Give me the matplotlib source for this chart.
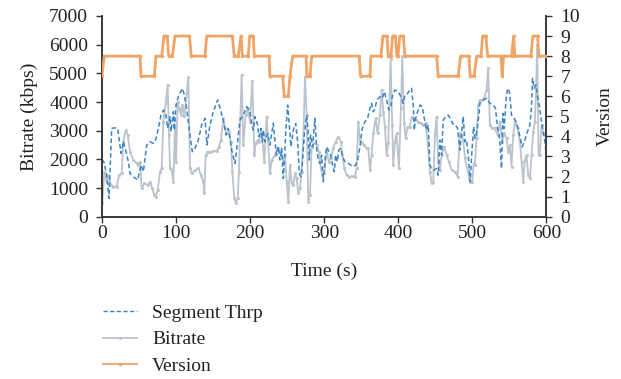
import matplotlib
matplotlib.use("Agg")
import matplotlib.pyplot as plt
from matplotlib.lines import Line2D

# Segment throughput (kbps)
thrp_t = [0, 2.7, 6.3, 9.4, 10.8, 13.0, 17.5, 21.1, 25.6, 28.8, 31.9, 35.5, 37.8, 42.3, 48.1,
          52.6, 55.8, 58.0, 60.3, 64.8, 69.3, 72.4, 76.0, 79.6, 82.8, 85.9, 88.6, 91.8, 93.1,
          96.3, 97.6, 99.9, 103.0, 108.4, 110.6, 114.2, 118.7, 121.9, 125.5, 130.0, 134.5,
          139.0, 141.7, 145.7, 150.2, 156.1, 159.2, 163.7, 167.3, 170.5, 175.0, 179.5, 183.0,
          186.2, 190.7, 195.2, 199.7, 202.0, 204.2, 206.5, 210.1, 211.9, 214.6, 216.4, 217.7,
          220.0, 223.6, 226.7, 229.0, 231.2, 233.5, 235.7, 238.0, 240.2, 242.5, 244.7, 246.1,
          247.9, 250.6, 252.8, 255.1, 258.2, 261.4, 264.1, 266.3, 268.5, 270.3, 273.0, 276.2,
          278.4, 279.8, 281.6, 284.3, 287.4, 289.7, 292.0, 294.2, 296.4, 298.7, 300.9, 303.2,
          306.3, 308.6, 310.8, 313.5, 315.3, 317.6, 319.8, 322.5, 324.8, 327.9, 332.4, 336.0,
          339.2, 342.3, 345.0, 348.2, 351.3, 354.9, 358.5, 361.7, 363.9, 366.2, 368.4, 371.1,
          375.2, 378.3, 381.0, 384.1, 387.3, 390.0, 392.2, 395.4, 399.9, 403.5, 406.6, 408.9,
          412.5, 415.6, 417.9, 420.1, 421.5, 423.3, 426.0, 429.1, 432.3, 435.0, 438.1, 440.4,
          442.6, 445.8, 448.5, 451.6, 453.9, 456.1, 458.4, 460.6, 463.8, 467.4, 471.0, 474.1,
          477.3, 480.0, 483.1, 485.4, 487.6, 489.9, 492.1, 494.4, 497.1, 498.9, 501.6, 503.4,
          505.6, 508.8, 510.1, 514.6, 519.1, 523.6, 528.1, 531.2, 533.9, 535.7, 537.5, 539.3,
          541.1, 542.9, 545.2, 547.4, 550.1, 552.8, 556.4, 559.6, 562.7, 565.0, 567.2, 570.8,
          574.4, 577.6, 579.8, 581.2, 583.4, 585.7, 587.9, 590.2, 593.3, 596.0, 597.8, 600.0]
thrp_kbps = [2000, 1900, 1450, 640, 1570, 3080, 3100, 3080, 2210, 2620, 2330, 1920, 1510, 1395, 1280,
             1800, 1570, 2035, 2500, 2615, 2560, 2675, 3080, 3545, 3720, 3600, 3080, 3490, 2965,
             3660, 3020, 3895, 4185, 4475, 4300, 3780, 2850, 2270, 2385, 2675, 3200,
             3430, 2500, 3200, 3660, 4070, 3780, 3370, 2850, 3080, 2325, 1860, 2615,
             3370, 3545, 3840, 3660, 3255, 3020, 3490, 3200, 2790, 3080, 2615, 3020,
             2615, 2905, 2500, 2905, 3255, 2615, 2150, 2440, 1975, 2385, 1335, 1920,
             2905, 3895, 3200, 2440, 3020, 3255, 2615, 1510, 1395, 1800, 2850, 3545,
             2965, 1975, 2850, 2440, 3430, 2385, 1975, 1860, 2150, 1220, 1920, 2440,
             2270, 2150, 1860, 1570, 2150, 1920, 2325, 2385, 2090, 1920, 1860, 1800,
             1745, 1800, 1975, 2440, 3080, 3315, 3430, 3780, 3955, 3660, 3780, 4070,
             4185, 4130, 4360, 4070, 3720, 3840, 4245, 4420, 4360, 4185, 3955, 4245,
             4300, 4420, 4475, 3895, 3020, 3430, 3660, 3895, 3840, 3430, 3020, 3200,
             1800, 1625, 1625, 1685, 1450, 2675, 2150, 3370, 3490, 3545, 3370, 3220,
             3200, 3080, 2325, 2905, 3490, 2615, 2675, 2150, 1220, 2090, 3140, 2730,
             2905, 3545, 3955, 4070, 4130, 3955, 3895, 3780, 3080, 2965, 2440, 1685,
             3605, 3080, 4010, 4475, 4360, 3545, 3430, 3255, 2965, 2675, 2440, 2675,
             2965, 3200, 3840, 4825, 4475, 4595, 4185, 3895, 3315, 2905, 2615, 2090]

# Selected bitrate (kbps)
rate_t = [0.4, 3.1, 6.3, 8.5, 12.1, 15.3, 19.8, 22.9, 26.5, 28.8, 31.9, 34.6, 37.8, 42.3, 46.8,
          49.0, 51.3, 53.5, 57.1, 61.6, 64.8, 67.9, 70.6, 72.4, 75.1, 78.3, 80.5, 82.8, 85.9,
          88.6, 90.4, 91.8, 94.0, 96.3, 98.5, 99.9, 102.1, 103.9, 106.6, 108.4, 111.1, 114.2,
          116.5, 118.7, 121.0, 125.5, 130.0, 133.6, 136.8, 138.1, 139.9, 142.6, 145.7, 150.2,
          154.7, 157.9, 160.6, 163.7, 166.0, 168.2, 171.4, 174.1, 175.9, 178.6, 180.4, 183.1,
          184.9, 186.7, 188.5, 190.7, 193.9, 196.6, 199.7, 202.9, 205.6, 207.4, 210.1, 211.9,
          214.6, 216.4, 219.1, 222.2, 226.7, 229.0, 233.5, 235.7, 238.0, 241.6, 244.7, 247.0,
          249.2, 251.5, 253.7, 256.0, 258.2, 260.5, 262.7, 265.0, 267.2, 269.4, 271.7, 274.0,
          276.2, 278.4, 280.7, 283.0, 286.5, 289.7, 292.8, 295.5, 297.3, 300.0, 303.2, 306.3,
          309.0, 312.2, 315.3, 318.9, 322.5, 324.3, 327.0, 330.2, 333.3, 337.8, 341.4, 343.7,
          345.9, 348.2, 351.3, 354.0, 357.2, 359.4, 361.7, 363.9, 366.2, 369.3, 372.0, 375.2,
          377.4, 379.7, 381.9, 384.1, 386.4, 389.5, 391.8, 393.1, 395.4, 397.6, 400.8, 403.5,
          405.3, 408.0, 409.8, 412.5, 415.6, 417.9, 420.1, 423.3, 426.9, 430.5, 433.6, 436.8,
          439.5, 442.6, 444.9, 447.1, 449.4, 451.6, 453.9, 456.1, 458.4, 461.5, 465.1, 468.3,
          471.9, 476.4, 480.0, 483.1, 485.4, 487.6, 489.9, 493.5, 496.6, 499.8, 501.6, 503.4,
          505.6, 507.9, 510.1, 513.2, 515.9, 519.1, 521.3, 523.6, 526.7, 530.3, 533.9, 537.1,
          540.2, 542.9, 546.1, 548.3, 550.6, 552.8, 555.1, 557.3, 560.9, 564.1, 566.3, 568.6,
          570.8, 573.1, 575.3, 577.6, 579.8, 582.1, 584.3, 585.8, 587.4, 589.4, 591.1, 593.3,
          595.6, 597.8, 600.0]
rate_kbps = [465, 1570, 1220, 1450, 1105, 1045, 1045, 1450, 1510, 2615, 3020, 2850, 2270, 1975, 1860,
             1800, 1920, 990, 1160, 1105, 1220, 990, 755, 700, 930, 1570, 1685, 3315, 3955,
             4600, 2850, 1685, 1625, 1220, 3200, 1920, 4010, 3780, 3545, 3895, 3500, 4300,
             4860, 1685, 1510, 1625, 1685, 1450, 1220, 815, 2150, 2270, 2245, 2290,
             2290, 2440, 2675, 3430, 3080, 2905, 2965, 2615, 1570, 640, 465, 640,
             1570, 3430, 4940, 2500, 3545, 3780, 3315, 4750, 2150, 2560, 2675, 2615,
             2965, 2730, 1920, 3490, 1510, 1975, 2150, 2325, 2385, 2270, 1920, 2150,
             1220, 520, 1800, 1160, 1105, 1510, 1335, 815, 990, 1570, 2675, 4880,
             3545, 520, 755, 2440, 2560, 2500, 2270, 1685, 1450, 1510, 2325, 1920,
             2035, 2385, 2615, 2790, 2615, 2150, 1685, 1450, 1395, 1420, 1395, 1685,
             3315, 2675, 2560, 2500, 2385, 2385, 1625, 2150, 2905, 3430, 2905, 3545,
             4420, 3660, 3140, 2150, 2560, 5500, 3200, 1800, 2615, 2905, 1685, 3780,
             5600, 3255, 2730, 3140, 3140, 3490, 3430, 3370, 3315, 3255, 3200, 3255,
             2615, 1570, 1160, 1220, 2850, 3490, 1920, 1625, 2150, 2440, 2150, 1920,
             1625, 1570, 1395, 2905, 2850, 2675, 2035, 1625, 1220, 1220, 1860, 1800,
             2730, 3895, 4070, 4070, 4130, 4420, 5175, 3200, 3080, 3080, 2850, 3315,
             2615, 2905, 2730, 2270, 2500, 1745, 2850, 3315, 3080, 2615, 1920, 1220,
             1975, 2150, 1450, 1335, 2150, 2965, 3315, 4245, 5990, 2150, 2150, 3200,
             2905, 2850, 2905]

# Representation (version) index over time
ver_t = [0, 3, 51.3, 52.6, 70.6, 72.9, 80.5, 83.7, 88, 90, 95, 98.5, 118, 120.5, 139, 141.3,
         175.9, 178.5, 184, 187.6, 189.5, 197.4, 199.3, 204.2, 205.5, 225.4, 226.7, 243.8, 246,
         251.4, 253.7, 257.3, 275.3, 276.7, 280.7, 283, 347.2, 349, 361.7, 363, 376.5, 379.2,
         384.6, 386.4, 390, 392.3, 396, 398, 399.5, 402, 406.6, 408.9, 451.7, 453.9, 480.8, 484,
         495.3, 497, 502.4, 505.7, 511.5, 513.8, 518.2, 520.5, 538.5, 540.2, 542, 552.9, 555.6,
         557.4, 579, 581.6, 588, 589.7, 600]
ver_idx = [7, 8, 8, 7, 7, 8, 8, 9, 9, 8, 8, 9, 9, 8, 8, 9,
           9, 8, 8, 9, 8, 8, 9, 9, 8, 8, 7, 7, 6,
           6, 7, 8, 8, 7, 7, 8, 8, 7, 7, 8, 8, 9,
           9, 8, 8, 9, 9, 8, 8, 9, 9, 8, 8, 7, 7, 8,
           8, 7, 7, 8, 8, 9, 9, 8, 8, 7, 8, 8, 9,
           8, 8, 9, 9, 8, 8]

BLUE = "#3A84C9"
GRAY = "#BCC3CB"
ORANGE = "#F0A465"
TEXT = "#222222"
FS = 14

plt.rcParams["font.family"] = ["Liberation Serif", "DejaVu Serif"]
plt.rcParams["font.size"] = FS

fig = plt.figure(figsize=(6.21, 3.79), dpi=100)
ax = fig.add_axes([0.1643, 0.4282, 0.7157, 0.5296])
ax2 = ax.twinx()

l_rate, = ax.plot(rate_t, rate_kbps, color=GRAY, lw=1.3, marker="o", ms=1.2, zorder=2)
l_thrp, = ax.plot(thrp_t, thrp_kbps, color=BLUE, lw=1.1, ls=(0, (3, 1.8)), zorder=3)
l_ver, = ax2.plot(ver_t, ver_idx, color=ORANGE, lw=2.0, marker="o", ms=1.5, zorder=4)

ax.set_xlim(0, 600)
ax.set_ylim(0, 7000)
ax2.set_ylim(0, 10)
ax.set_xticks(range(0, 601, 100))
ax.set_yticks(range(0, 7001, 1000))
ax2.set_yticks(range(0, 11, 1))

for a in (ax, ax2):
    a.spines["top"].set_visible(False)
    for s in ("left", "right", "bottom"):
        a.spines[s].set_color("#333333")
        a.spines[s].set_linewidth(1.1)
    a.tick_params(direction="out", length=4, width=1.0, color="#333333",
                  labelsize=FS, labelcolor=TEXT)
ax.tick_params(axis="x", pad=2)
ax.tick_params(axis="y", pad=6)
ax2.tick_params(axis="y", pad=6)

ax.set_xlabel("Time (s)", fontsize=FS, color=TEXT, labelpad=15)
ax.set_ylabel("Bitrate (kbps)", fontsize=FS, color=TEXT, labelpad=8)
ax2.set_ylabel("Version", fontsize=FS, color=TEXT, labelpad=12)

handles = [
    Line2D([], [], color=BLUE, lw=1.0, ls=(0, (3, 1.8))),
    Line2D([], [], color=GRAY, lw=1.3, marker="o", ms=1.2),
    Line2D([], [], color=ORANGE, lw=1.3, marker="o", ms=1.5),
]
fig.legend(handles, ["Segment Thrp", "Bitrate", "Version"],
           loc="upper left", bbox_to_anchor=(0.166, 0.198), frameon=False,
           fontsize=FS, handlelength=1.75, handletextpad=0.78, labelspacing=0.47,
           borderaxespad=0, borderpad=0, labelcolor=TEXT)

fig.savefig("out.png", dpi=100)
